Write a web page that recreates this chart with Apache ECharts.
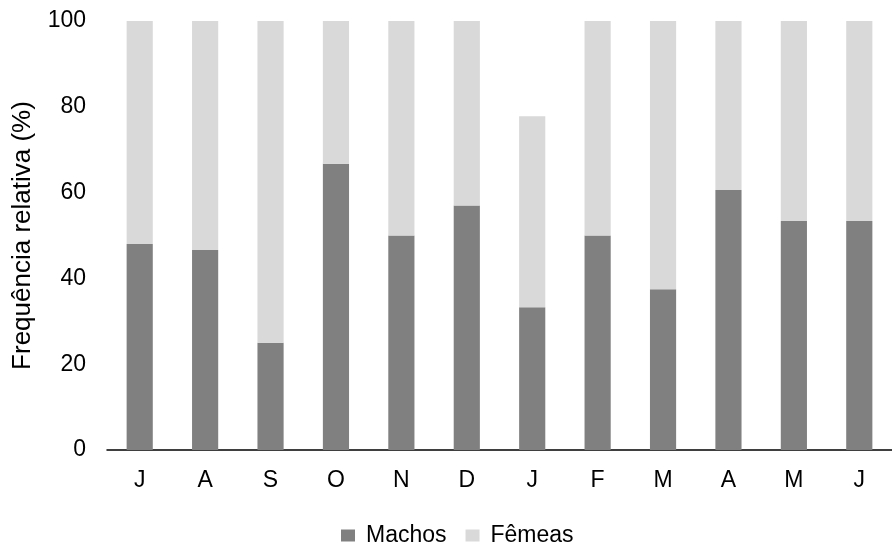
<!DOCTYPE html>
<html>
<head>
<meta charset="utf-8">
<script src="https://cdn.jsdelivr.net/npm/echarts@6/dist/echarts.min.js"></script>
<style>
html,body{margin:0;padding:0;background:#fff;}
#c{width:892px;height:542px;}
</style>
</head>
<body>
<div id="c"></div>
<script>
const categories = ['J','A','S','O','N','D','J','F','M','A','M','J'];
const machos = [48.0, 46.6, 25.0, 66.7, 50.0, 57.0, 33.3, 50.0, 37.5, 60.6, 53.4, 53.4];
const femeas = [52.0, 53.4, 75.0, 33.3, 50.0, 43.0, 44.5, 50.0, 62.5, 39.4, 46.6, 46.6];
const yTicks = [0, 20, 40, 60, 80, 100];

const chart = echarts.init(document.getElementById('c'), null, {renderer:'canvas'});
const font = 'Arial, "Liberation Sans", sans-serif';
chart.setOption({
  animation:false,
  textStyle:{fontFamily:font},
  grid:{left:107, top:21, height:429, width:798, containLabel:false},
  legend:{
    left:336, top:519,
    icon:'rect', itemWidth:14, itemHeight:12, itemGap:19,
    textStyle:{fontFamily:font, fontSize:23, color:'#000', padding:[0,0,0,6]},
    data:['Machos','Fêmeas']
  },
  xAxis:{
    type:'category', data:categories,
    axisLine:{show:true, lineStyle:{color:'#000', width:1.5}},
    axisTick:{show:false},
    axisLabel:{color:'#000', fontSize:23, fontFamily:font, margin:19, interval:0}
  },
  yAxis:{
    type:'value', min:yTicks[0], max:yTicks[yTicks.length-1], interval:20,
    name:'Frequência relativa (%)', nameLocation:'middle', nameGap:71, nameRotate:90,
    nameTextStyle:{color:'#000', fontSize:26, fontFamily:font},
    axisLine:{show:false}, axisTick:{show:false}, splitLine:{show:false},
    axisLabel:{color:'#000', fontSize:23, fontFamily:font, margin:21}
  },
  series:[
    {name:'Machos', type:'bar', stack:'t', data:machos, barWidth:'40%',
     itemStyle:{color:'#808080'}},
    {name:'Fêmeas', type:'bar', stack:'t', data:femeas, barWidth:'40%',
     itemStyle:{color:'#d9d9d9'}}
  ]
});
</script>
</body>
</html>
